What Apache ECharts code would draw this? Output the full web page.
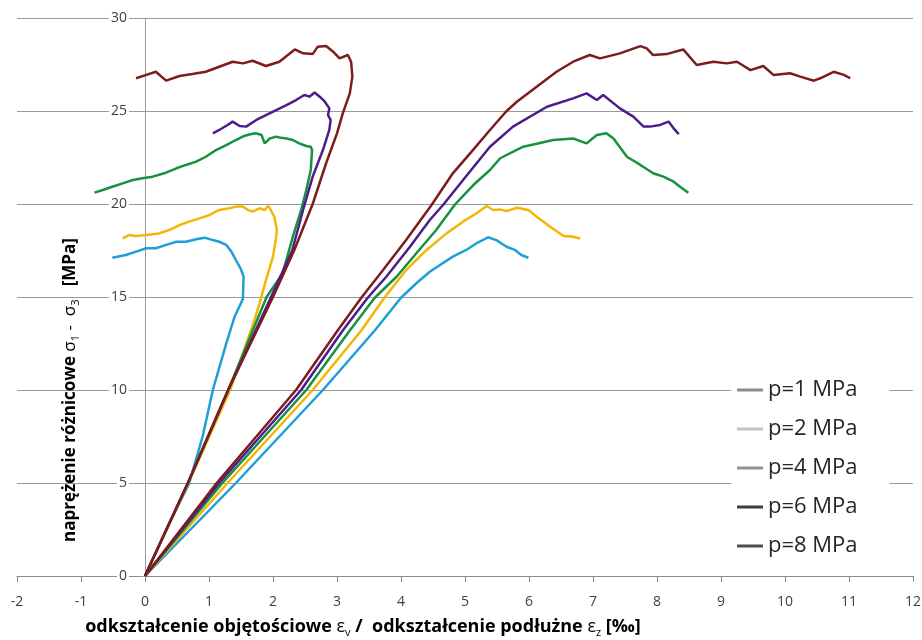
<!DOCTYPE html>
<html><head><meta charset="utf-8">
<script src="https://cdn.jsdelivr.net/npm/echarts@6/dist/echarts.min.js"></script>
<style>html,body{margin:0;padding:0;background:#fff}#c{width:922px;height:640px}</style>
</head><body><div id="c"></div>
<script>
const seriesNames = ['p=1 MPa', 'p=2 MPa', 'p=4 MPa', 'p=6 MPa', 'p=8 MPa'];
const seriesColors = ['#1e9fd8', '#f2b705', '#16923f', '#4b1e8c', '#7d1c1c'];
const legendColors = ['#8c8c8c', '#c4c4c4', '#939393', '#3c3c3c', '#4d4d4d'];
const xRange = [-2, 12, 1];
const yRange = [0, 30, 5];

// volumetric strain curves (left group)
const vol_p1 = [[0,0],[0.33,2.47],[0.69,4.98],[0.9,7.49],[1.06,10],[1.27,12.51],[1.4,13.94],[1.53,14.9],[1.54,16.09],[1.5,16.49],[1.42,16.99],[1.35,17.44],[1.27,17.8],[1.16,17.97],[1.06,18.06],[0.93,18.19],[0.8,18.1],[0.64,17.97],[0.49,17.97],[0.33,17.8],[0.17,17.62],[0.02,17.62],[-0.14,17.44],[-0.3,17.26],[-0.51,17.11]];
const vol_p2 = [[0,0],[0.68,5],[1.33,10],[1.71,13.76],[1.79,14.66],[1.89,15.91],[2.0,17.17],[2.05,18.24],[2.06,18.6],[2.02,19.32],[1.95,19.77],[1.92,19.89],[1.87,19.68],[1.79,19.77],[1.68,19.59],[1.61,19.68],[1.53,19.86],[1.42,19.86],[1.32,19.77],[1.16,19.68],[1.01,19.41],[0.85,19.23],[0.69,19.05],[0.54,18.87],[0.38,18.6],[0.22,18.42],[0.02,18.33],[-0.14,18.28],[-0.25,18.33],[-0.35,18.15]];
const vol_p4 = [[0,0],[0.67,5],[1.3,10],[1.9,15],[2.15,16.27],[2.31,18.24],[2.44,19.68],[2.52,20.75],[2.59,21.83],[2.61,22.9],[2.59,23.08],[2.52,23.12],[2.41,23.26],[2.31,23.44],[2.21,23.52],[2.1,23.58],[2.05,23.62],[1.95,23.52],[1.87,23.26],[1.82,23.71],[1.74,23.8],[1.66,23.76],[1.55,23.66],[1.42,23.44],[1.27,23.17],[1.11,22.9],[0.95,22.54],[0.8,22.28],[0.64,22.1],[0.49,21.92],[0.3,21.65],[0.12,21.47],[-0.04,21.38],[-0.19,21.29],[-0.35,21.11],[-0.51,20.93],[-0.66,20.75],[-0.79,20.61]];
const vol_p6 = [[0,0],[0.67,5],[1.3,10],[1.97,15],[2.3,17.5],[2.47,19.68],[2.62,21.47],[2.78,22.9],[2.88,23.98],[2.9,24.52],[2.86,24.78],[2.88,25.14],[2.81,25.5],[2.73,25.77],[2.65,25.99],[2.57,25.77],[2.49,25.86],[2.36,25.59],[2.21,25.32],[2.05,25.05],[1.89,24.78],[1.74,24.52],[1.58,24.16],[1.48,24.19],[1.37,24.43],[1.29,24.25],[1.16,23.98],[1.06,23.8]];
const vol_p8 = [[0,0],[0.67,5],[1.3,10],[2.0,15],[2.33,17.5],[2.62,20],[2.83,22.19],[3.0,23.8],[3.09,24.87],[3.2,25.95],[3.24,26.85],[3.22,27.65],[3.17,28.01],[3.04,27.83],[2.94,28.19],[2.83,28.49],[2.7,28.46],[2.62,28.06],[2.47,28.1],[2.34,28.31],[2.1,27.65],[1.89,27.42],[1.68,27.7],[1.53,27.56],[1.37,27.65],[1.16,27.38],[0.95,27.11],[0.74,26.99],[0.54,26.88],[0.33,26.63],[0.17,27.11],[0.02,26.94],[-0.14,26.76]];

// longitudinal strain curves (right group)
const lon_p1 = [[0,0],[1.42,5],[2.78,10],[3.59,13.2],[4.0,14.96],[4.24,15.74],[4.45,16.36],[4.61,16.72],[4.81,17.17],[5.02,17.53],[5.18,17.89],[5.36,18.21],[5.49,18.06],[5.65,17.7],[5.78,17.53],[5.88,17.26],[5.99,17.11]];
const lon_p2 = [[0,0],[1.29,5],[2.62,10],[3.38,13.2],[3.74,14.96],[4.08,16.45],[4.4,17.53],[4.71,18.42],[4.97,19.05],[5.18,19.5],[5.34,19.89],[5.44,19.68],[5.54,19.71],[5.65,19.62],[5.81,19.8],[5.99,19.68],[6.12,19.32],[6.33,18.78],[6.54,18.28],[6.69,18.24],[6.8,18.15]];
const lon_p4 = [[0,0],[1.21,5],[2.52,10],[3.2,13.2],[3.59,14.96],[3.93,16.09],[4.24,17.35],[4.55,18.6],[4.84,19.96],[5.13,21.02],[5.39,21.83],[5.55,22.46],[5.91,23.08],[6.38,23.44],[6.69,23.52],[6.9,23.26],[7.06,23.71],[7.21,23.8],[7.32,23.52],[7.53,22.54],[7.74,22.1],[7.94,21.65],[8.1,21.47],[8.26,21.2],[8.36,20.93],[8.49,20.61]];
const lon_p6 = [[0,0],[1.16,5],[2.44,10],[3.09,13.2],[3.48,14.96],[3.77,16.09],[4.14,17.7],[4.45,19.14],[4.66,19.96],[4.97,21.29],[5.39,23.08],[5.75,24.16],[6.28,25.23],[6.69,25.68],[6.9,25.95],[7.06,25.59],[7.16,25.86],[7.42,25.14],[7.63,24.7],[7.79,24.16],[7.89,24.16],[8.05,24.25],[8.18,24.43],[8.26,24.07],[8.34,23.76]];
const lon_p8 = [[0,0],[1.12,5],[2.36,10],[3.01,13.2],[3.38,14.96],[3.72,16.45],[4.08,18.06],[4.48,19.96],[4.81,21.65],[5.1,22.8],[5.39,23.98],[5.65,25.0],[5.81,25.5],[6.12,26.31],[6.43,27.11],[6.69,27.65],[6.95,28.01],[7.11,27.83],[7.42,28.1],[7.74,28.49],[7.84,28.37],[7.94,28.01],[8.15,28.06],[8.41,28.31],[8.62,27.47],[8.88,27.65],[9.09,27.56],[9.25,27.65],[9.46,27.2],[9.66,27.42],[9.82,26.94],[10.08,27.03],[10.24,26.85],[10.45,26.63],[10.55,26.76],[10.76,27.11],[10.92,26.94],[11.02,26.76]];

const volCurves = [vol_p1, vol_p2, vol_p4, vol_p6, vol_p8];
const lonCurves = [lon_p1, lon_p2, lon_p4, lon_p6, lon_p8];

const FONT = "'Open Sans', 'DejaVu Sans', sans-serif";
const series = [];
[lonCurves, volCurves].forEach(group => {
  group.forEach((d, i) => {
    series.push({
      type: 'line', name: seriesNames[i], data: d,
      showSymbol: false, symbol: 'none', smooth: false,
      lineStyle: { width: 2.5, color: seriesColors[i] },
      itemStyle: { color: seriesColors[i] },
      z: 3
    });
  });
});

const W = 922, GL = 17, GR = 9;
// place the y axis at x = 0 (pixel offset from the grid's left edge)
const yAxisOffset = -((W - GL - GR) * (0 - xRange[0]) / (xRange[1] - xRange[0]));

const chart = echarts.init(document.getElementById('c'), null, { renderer: 'canvas' });
chart.setOption({
  animation: false,
  backgroundColor: '#fff',
  grid: { left: GL, right: GR, top: 18, bottom: 64, containLabel: false, outerBoundsMode: 'none' },
  xAxis: {
    type: 'value', min: xRange[0], max: xRange[1], interval: xRange[2],
    axisLine: { onZero: false, lineStyle: { color: '#8c8c8c', width: 1 } },
    axisTick: { show: true, length: 6, lineStyle: { color: '#8c8c8c' } },
    axisLabel: { fontSize: 14, color: '#404040', margin: 19, fontFamily: FONT },
    splitLine: { show: false }
  },
  yAxis: {
    type: 'value', min: yRange[0], max: yRange[1], interval: yRange[2],
    position: 'left', offset: yAxisOffset,
    axisLine: { show: true, onZero: false, lineStyle: { color: '#9a9a9a', width: 1 } },
    axisTick: { show: true, length: 5, lineStyle: { color: '#9a9a9a' } },
    axisLabel: { fontSize: 14, color: '#404040', margin: 16, fontFamily: FONT, backgroundColor: '#fff', padding: [0, 2, 0, 2] },
    splitLine: { show: true, lineStyle: { color: '#9a9a9a', width: 1 } }
  },
  legend: {
    orient: 'vertical', left: 731, top: 370,
    padding: [8, 32, 8, 6], itemGap: 15, itemWidth: 26, itemHeight: 3,
    icon: 'rect', backgroundColor: '#fff',
    textStyle: { fontSize: 22, lineHeight: 24, color: '#262626', fontFamily: FONT },
    data: seriesNames.map((n, i) => ({ name: n, itemStyle: { color: legendColors[i] } }))
  },
  graphic: [
    {
      type: 'text', x: 363, y: 627, z: 10,
      style: {
        text: 'odkształcenie objętościowe {m|ε}{s|v} /  odkształcenie podłużne {m|ε}{s|z} [‰]',
        font: 'bold 18px ' + FONT, fill: '#000', align: 'center', verticalAlign: 'middle',
        rich: {
          m: { fontSize: 18, fontWeight: 'normal', fontFamily: FONT, lineHeight: 22 },
          s: { fontSize: 11, fontWeight: 'normal', fontFamily: FONT, lineHeight: 12, verticalAlign: 'bottom' }
        }
      }
    },
    {
      type: 'text', x: 70, y: 390, rotation: Math.PI / 2, z: 10,
      style: {
        text: 'naprężenie różnicowe {m|σ}{s|1} {m|-}  {m|σ}{s|3}   [MPa]',
        font: 'bold 17px ' + FONT, fill: '#000', align: 'center', verticalAlign: 'middle',
        rich: {
          m: { fontSize: 17, fontWeight: 'normal', fontFamily: FONT, lineHeight: 22 },
          s: { fontSize: 11, fontWeight: 'normal', fontFamily: FONT, lineHeight: 12, verticalAlign: 'bottom' }
        }
      }
    }
  ],
  series: series
});
</script>
</body></html>
